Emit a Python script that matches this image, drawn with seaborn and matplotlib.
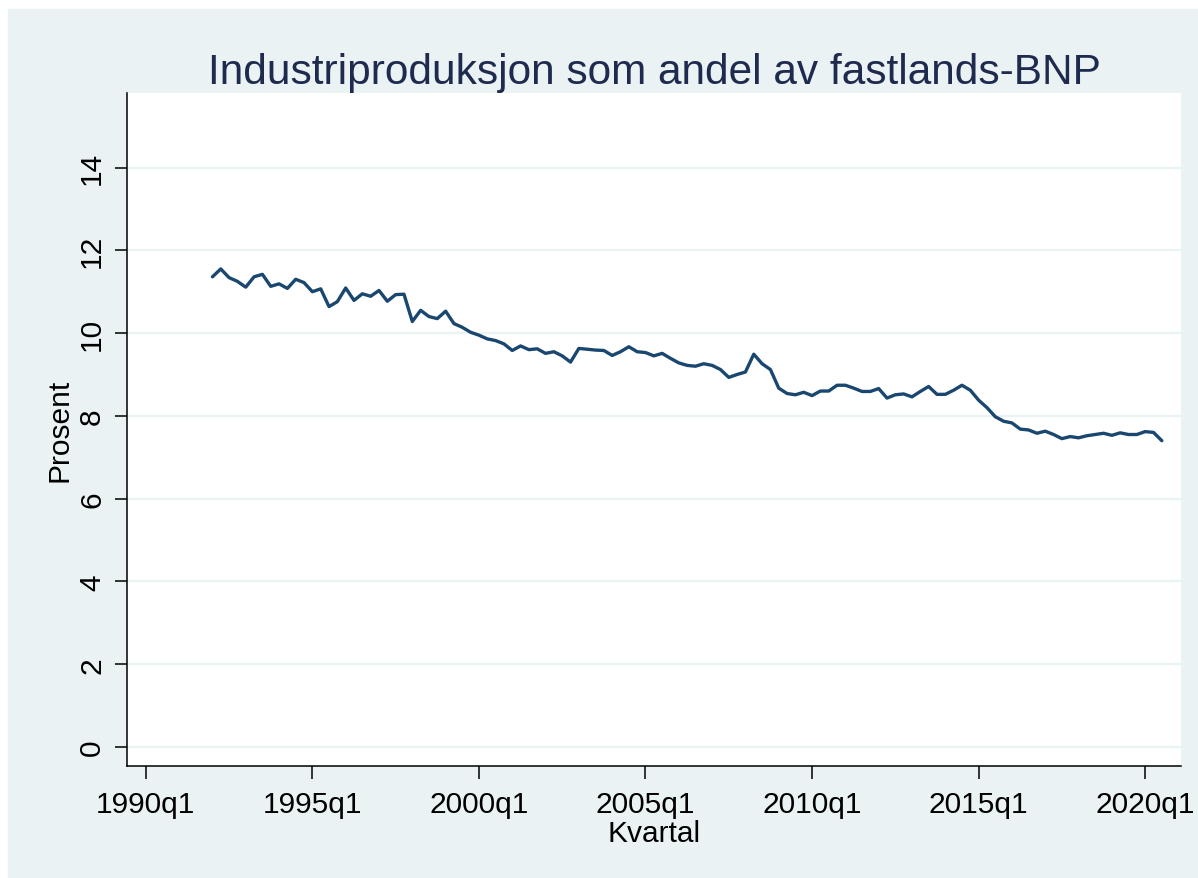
import numpy as np
import pandas as pd
import matplotlib
matplotlib.use('Agg')
import matplotlib.pyplot as plt
import seaborn as sns

# kvartalsdata, industri som andel av fastlands-BNP (prosent)
start_kvartal = '1992Q1'
slutt_kvartal = '2020Q3'
prosent = [
    11.36, 11.55, 11.34, 11.25, 11.11, 11.36, 11.42, 11.13, 11.19, 11.08,
    11.30, 11.22, 11.00, 11.07, 10.64, 10.76, 11.09, 10.79, 10.95, 10.89,
    11.03, 10.77, 10.93, 10.94, 10.28, 10.55, 10.40, 10.35, 10.53, 10.23,
    10.14, 10.02, 9.95, 9.86, 9.82, 9.74, 9.58, 9.69, 9.60, 9.62,
    9.51, 9.55, 9.45, 9.30, 9.63, 9.61, 9.59, 9.58, 9.46, 9.55,
    9.67, 9.55, 9.53, 9.45, 9.51, 9.39, 9.28, 9.22, 9.20, 9.26,
    9.22, 9.12, 8.93, 9.00, 9.06, 9.49, 9.26, 9.12, 8.67, 8.54,
    8.51, 8.57, 8.49, 8.60, 8.60, 8.74, 8.74, 8.67, 8.59, 8.59,
    8.66, 8.43, 8.51, 8.53, 8.46, 8.59, 8.71, 8.52, 8.52, 8.62,
    8.74, 8.62, 8.38, 8.20, 7.98, 7.87, 7.83, 7.68, 7.66, 7.58,
    7.63, 7.55, 7.45, 7.50, 7.47, 7.52, 7.55, 7.58, 7.53, 7.59,
    7.55, 7.55, 7.62, 7.60, 7.40,
]
tick_aar = [1990, 1995, 2000, 2005, 2010, 2015, 2020]
y_ticks = [0, 2, 4, 6, 8, 10, 12, 14]

kvartal = pd.period_range(start_kvartal, slutt_kvartal, freq='Q')
df = pd.DataFrame({'kvartal': [p.ordinal for p in kvartal], 'prosent': prosent})

sns.set_theme(style='white')
plt.rcParams['font.family'] = ['Liberation Sans', 'DejaVu Sans']

fig = plt.figure(figsize=(11.98, 8.79), dpi=100)
fig.patch.set_facecolor('white')
# Stata-aktig bakgrunn
fig.patches.append(plt.Rectangle((8 / 1198, 0), 1, 869 / 879, transform=fig.transFigure,
                                 color='#eaf2f3', zorder=-10))

ax = fig.add_axes([0.1060, 0.1274, 0.8798, 0.7656])
ax.set_facecolor('white')
sns.lineplot(data=df, x='kvartal', y='prosent', color='#1a476f', linewidth=2.4, ax=ax)

xt = [pd.Period(f'{a}Q1', freq='Q') for a in tick_aar]
ax.set_xticks([p.ordinal for p in xt])
ax.set_xticklabels([f'{p.year}q1' for p in xt])
ax.set_xlim(pd.Period('1990Q1', freq='Q').ordinal - 2.26,
            pd.Period('1990Q1', freq='Q').ordinal + 124.3)
ax.set_yticks(y_ticks)
ax.set_ylim(-0.46, 15.8)

ax.yaxis.grid(True, color='#eaf2f3', linewidth=1.6)
ax.xaxis.grid(False)
for s in ['top', 'right']:
    ax.spines[s].set_visible(False)
for s in ['left', 'bottom']:
    ax.spines[s].set_color('black')
    ax.spines[s].set_linewidth(1.1)

ax.tick_params(axis='both', which='major', length=9, width=1.1, color='black',
               labelsize=21.5, labelcolor='black', bottom=True, left=True)
ax.tick_params(axis='x', pad=8)
ax.tick_params(axis='y', pad=6)
for lab in ax.get_yticklabels():
    lab.set_rotation(90)
    lab.set_va('center')

ax.set_xlabel('Kvartal', fontsize=21.5, color='black')
ax.set_ylabel('Prosent', fontsize=21.5, color='black')
ax.xaxis.set_label_coords(0.5, -0.078)
ax.yaxis.set_label_coords(-0.051, 0.5)

ax.set_title('Industriproduksjon som andel av fastlands-BNP', fontsize=30.5,
             color='#1e2a4e', pad=7)

fig.savefig('out.png', dpi=100)
